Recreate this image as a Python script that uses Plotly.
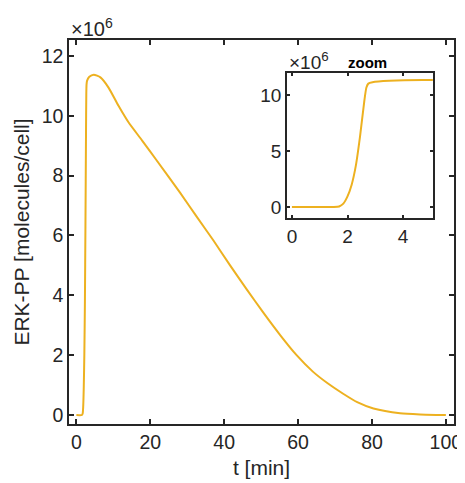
import plotly.graph_objects as go

# time [min]
t = [0, 1.5, 1.7, 1.85, 2.0, 2.15, 2.3, 2.45, 2.6, 2.68, 2.75, 2.9, 3.5, 4.7, 6.5, 8.7, 11.4, 14.1,
     17.8, 21.6, 28.1, 32.6, 37.1, 41.6, 46.1, 50.6, 55.1, 59.6, 64, 68, 72.2, 76, 80.4, 87.6, 93, 100]
# ERK-PP [molecules/cell] in units of 1e6
erk_pp_millions = [0, 0, 0.05, 0.3, 0.95, 2.0, 3.7, 6.3, 9.4, 10.7, 11.05, 11.17, 11.3, 11.37, 11.28,
                   10.94, 10.33, 9.78, 9.17, 8.53, 7.42, 6.62, 5.83, 5.0, 4.2, 3.42, 2.68, 2.0,
                   1.45, 1.06, 0.71, 0.43, 0.22, 0.06, 0.02, 0.0]
erk_pp = [v * 1e6 for v in erk_pp_millions]

main_xticks = [0, 20, 40, 60, 80, 100]
main_yticks = [0, 2, 4, 6, 8, 10, 12]
inset_xticks = [0, 2, 4]
inset_yticks = [0, 5, 10]

color = "#EDB120"
axc = "#262626"
font = "Liberation Sans, Arial, sans-serif"

fig = go.Figure()
fig.add_trace(go.Scatter(x=t, y=erk_pp, mode="lines",
                         line=dict(color=color, width=2, shape="spline", smoothing=0.6),
                         xaxis="x", yaxis="y", showlegend=False))
fig.add_trace(go.Scatter(x=t, y=erk_pp, mode="lines",
                         line=dict(color=color, width=2, shape="spline", smoothing=0.6),
                         xaxis="x2", yaxis="y2", showlegend=False))

def common(size):
    return dict(showline=True, linecolor=axc, linewidth=1.5, mirror="ticks", ticks="inside",
                tickcolor=axc, tickwidth=1.5, showgrid=False, zeroline=False, automargin=False,
                tickfont=dict(family=font, size=size, color=axc))

# the page body adds an 8px margin, so the figure is sized to fit 465x483 with that offset
fig.update_layout(
    width=457, height=475,
    margin=dict(l=61, r=11, t=32, b=59),
    paper_bgcolor="white", plot_bgcolor="white",
    xaxis=dict(domain=[0, 1], range=[-2, 102.2], tickvals=main_xticks,
               ticktext=[str(v) for v in main_xticks], ticklen=5,
               title=dict(text="t [min]", font=dict(family=font, size=21, color=axc), standoff=8),
               anchor="y", **common(19.5)),
    yaxis=dict(domain=[0, 1], range=[-0.3e6, 12.53e6], tickvals=[v * 1e6 for v in main_yticks],
               ticktext=[str(v) for v in main_yticks], ticklen=5,
               title=dict(text="ERK-PP [molecules/cell]", font=dict(family=font, size=21, color=axc), standoff=6),
               anchor="x", **common(19.5)),
    xaxis2=dict(domain=[0.566, 0.945], range=[-0.18, 5.07], tickvals=inset_xticks,
                ticktext=[str(v) for v in inset_xticks], ticklen=3, anchor="y2", **common(19)),
    yaxis2=dict(domain=[0.536, 0.914], range=[-1e6, 12e6], tickvals=[v * 1e6 for v in inset_yticks],
                ticktext=[str(v) for v in inset_yticks], ticklen=3, anchor="x2", **common(19)),
)

fig.add_annotation(x=0, y=1, xref="paper", yref="paper", xanchor="left", yanchor="bottom",
                   xshift=0, yshift=-2, text="×10<sup>6</sup>", showarrow=False,
                   font=dict(family=font, size=20, color=axc))
fig.add_annotation(x=0.566, y=0.914, xref="paper", yref="paper", xanchor="left", yanchor="bottom",
                   xshift=0, yshift=-2, text="×10<sup>6</sup>", showarrow=False,
                   font=dict(family=font, size=19, color=axc))
fig.add_annotation(x=0.83, y=0.914, xref="paper", yref="paper", xanchor="right", yanchor="bottom",
                   yshift=0, text="<b>zoom</b>", showarrow=False,
                   font=dict(family=font, size=15, color="black"))

fig.write_html("out.html")
